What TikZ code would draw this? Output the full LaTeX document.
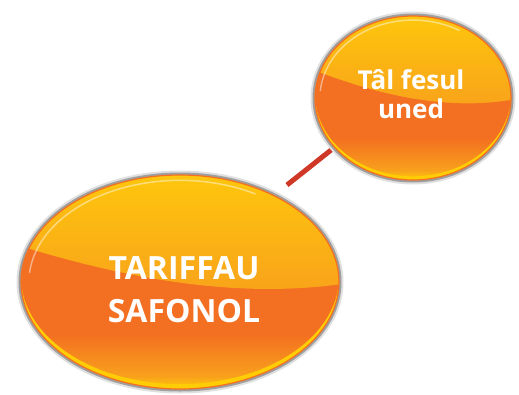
\documentclass[tikz,border=0pt]{standalone}
\usepackage{fontspec}
\setmainfont{Open Sans}
\usetikzlibrary{shapes,positioning}

\definecolor{balltop}{HTML}{FEC90B}
\definecolor{balllight}{HTML}{F8A01C}
\definecolor{ballorange}{HTML}{F36F21}
\definecolor{ballrim}{HTML}{FFCD05}
\definecolor{linkred}{HTML}{CF3827}

\pgfdeclarelayer{background}
\pgfsetlayers{background,main}

\pgfdeclareverticalshading{ballbase}{100bp}{color(0bp)=(ballrim); color(25bp)=(ballrim); color(28bp)=(balllight); color(38bp)=(ballorange); color(75bp)=(ballorange); color(100bp)=(ballorange)}

\tikzset{
  bubble/.style 2 args={ellipse, inner sep=0pt, minimum width=2*#1pt, minimum height=2*#2pt,
    shade, shading=ballbase, draw=ballorange, line width=1.2pt,
    preaction={draw=black!12, line width=9pt},
    preaction={draw=black!38, line width=5pt},
    path picture={
      \begin{scope}[shift={(path picture bounding box.center)}, x=#1pt, y=-#2pt]
        % glossy top half
        \shade[top color=balltop, bottom color=balllight] (-1.1,-0.38) .. controls (-0.5,-0.1) and (0.3,0.2) .. (1.1,0) -- (1.1,-1.1) -- (-1.1,-1.1) -- cycle;
        % yellow rim at the bottom
        \fill[ballrim, even odd rule] (0,0) circle[x radius=1, y radius=1] (0,-0.045) circle[x radius=1, y radius=1];
        \draw[white, opacity=.45, line width=1.5pt] (185:0.95) arc[start angle=185, end angle=300, x radius=0.95, y radius=0.95];
      \end{scope}}},
  bubbletext/.style={text=white, align=center, inner sep=0pt},
  link/.style={draw=linkred, line width=5pt}
}

\begin{document}
\begin{tikzpicture}[x=1pt,y=-1pt]
    \useasboundingbox (0,0) rectangle (519,394);

    \node[bubble={159}{107}] (tariff) at (180,282) {};
    \node[bubble={98}{82}] (unit) at (413,98) {};

    \node[bubbletext, font=\bfseries\fontsize{32}{43}\selectfont] (tarifftext) at (184,290) {TARIFFAU\\SAFONOL};
    \node[bubbletext, font=\bfseries\fontsize{26}{29}\selectfont] (unittext) at (411,94) {Tâl fesul\\uned};

    \coordinate (linkfoot) at (287,185);
    \begin{pgfonlayer}{background}
        \draw[link] (linkfoot) -- ([yshift=13pt]unit.center);
    \end{pgfonlayer}
\end{tikzpicture}
\end{document}
